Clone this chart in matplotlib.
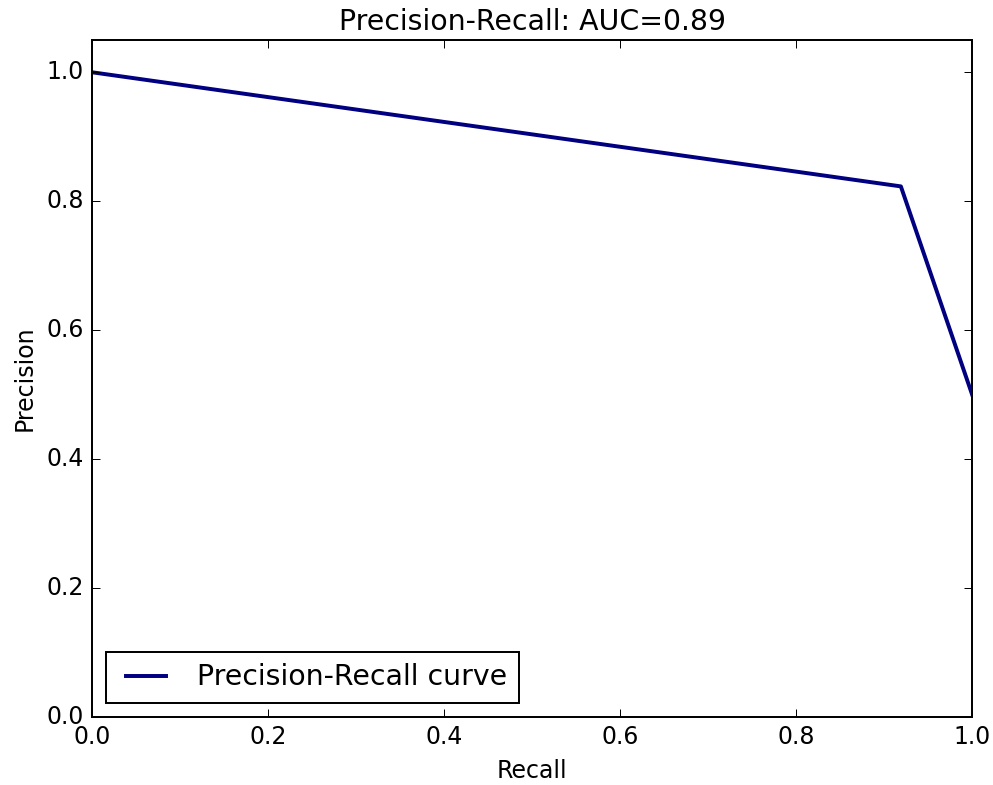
import matplotlib
matplotlib.use("Agg")
import matplotlib.pyplot as plt

# Precision-recall curve points
recall = [0.0, 0.919, 1.0]
precision = [1.0, 0.823, 0.5]
auc_value = 0.89

plt.style.use("classic")

DPI = 142
fig = plt.figure(figsize=(993 / DPI, 785 / DPI), dpi=DPI, facecolor="white")
ax = fig.add_axes([0.0927, 0.0866, 0.8863, 0.8624])

ax.plot(recall, precision, color="navy", lw=2, label="Precision-Recall curve")
ax.set_xlim(0.0, 1.0)
ax.set_ylim(0.0, 1.05)
ax.set_xlabel("Recall")
ax.set_ylabel("Precision")
ax.set_title(f"Precision-Recall: AUC={auc_value:.2f}")
ax.legend(loc="lower left")

fig.savefig("out.png", dpi=DPI, facecolor="white")
